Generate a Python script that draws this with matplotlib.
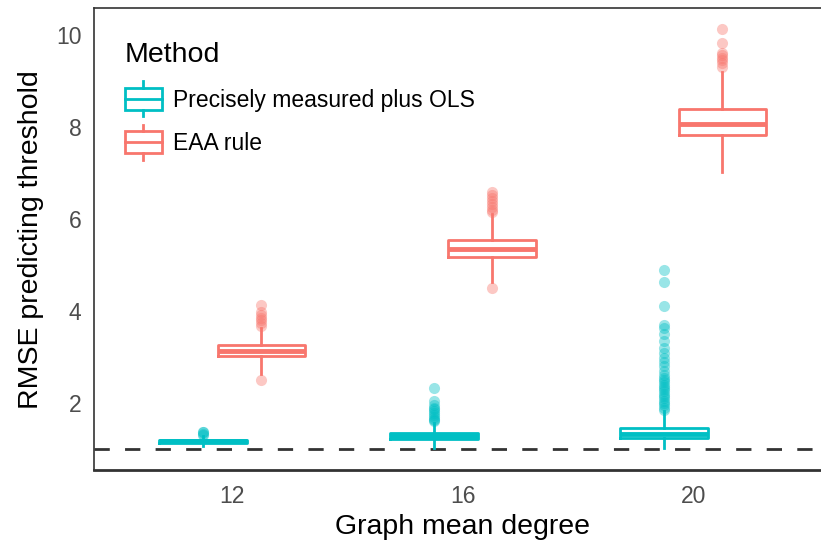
import numpy as np
import matplotlib.pyplot as plt
from matplotlib.legend_handler import HandlerBase
from matplotlib.patches import Rectangle
from matplotlib.lines import Line2D

plt.rcParams['font.family'] = ['Liberation Sans', 'DejaVu Sans']

degrees = ['12', '16', '20']
methods = ['Precisely measured plus OLS', 'EAA rule']
colors = ['#00BFC4', '#F8766D']

# box stats
ols_whislo = [1.06, 1.03, 1.02]
ols_q1 = [1.14, 1.22, 1.23]
ols_med = [1.165, 1.28, 1.33]
ols_q3 = [1.19, 1.34, 1.46]
ols_whishi = [1.28, 1.56, 1.82]
ols_out = [
    [1.30, 1.33, 1.36, 1.38],
    [1.60, 1.63, 1.66, 1.70, 1.74, 1.78, 1.82, 1.86, 1.90, 1.95, 2.04, 2.32],
    [1.85, 1.90, 1.95, 2.00, 2.05, 2.10, 2.15, 2.20, 2.25, 2.30, 2.35, 2.40,
     2.45, 2.50, 2.55, 2.60, 2.70, 2.80, 2.90, 2.97, 3.08, 3.20, 3.34, 3.50,
     3.62, 3.70, 4.11, 4.63, 4.89],
]

eaa_whislo = [2.62, 4.63, 7.01]
eaa_q1 = [3.02, 5.18, 7.83]
eaa_med = [3.13, 5.35, 8.07]
eaa_q3 = [3.27, 5.54, 8.38]
eaa_whishi = [3.62, 6.10, 9.19]
eaa_out = [
    [2.49, 3.68, 3.74, 3.80, 3.85, 3.92, 3.98, 4.13],
    [4.50, 6.15, 6.20, 6.26, 6.32, 6.38, 6.45, 6.52, 6.58],
    [9.30, 9.39, 9.45, 9.50, 9.55, 9.60, 9.82, 10.12],
]

threshold = 1.0


def make_stats(lo, q1, med, q3, hi, out):
    return [dict(whislo=a, q1=b, med=c, q3=d, whishi=e, fliers=f)
            for a, b, c, d, e, f in zip(lo, q1, med, q3, hi, out)]


groups = [
    make_stats(ols_whislo, ols_q1, ols_med, ols_q3, ols_whishi, ols_out),
    make_stats(eaa_whislo, eaa_q1, eaa_med, eaa_q3, eaa_whishi, eaa_out),
]

fig = plt.figure(figsize=(8.21, 5.45), dpi=100)
ax = fig.add_axes([0.1145, 0.1376, 0.8984, 0.847])

x = np.arange(1, len(degrees) + 1)
offsets = [-0.126, 0.126]
for stats, col, off in zip(groups, colors, offsets):
    ax.bxp(stats, positions=x + off, widths=0.38, showcaps=False,
           boxprops=dict(color=col, linewidth=2),
           whiskerprops=dict(color=col, linewidth=2),
           medianprops=dict(color=col, linewidth=3.5, solid_capstyle='butt'),
           flierprops=dict(marker='o', markerfacecolor=col, markeredgecolor='none',
                           markersize=8, alpha=0.4))

ax.axhline(threshold, color='#333333', linewidth=2, linestyle=(0, (5.5, 5.5)), zorder=0)

ax.set_xlim(0.4, 3.6)
ax.set_ylim(0.545, 10.57)
ax.set_xticks(x)
ax.set_xticklabels(degrees)
ax.set_yticks([2, 4, 6, 8, 10])
ax.tick_params(length=0, labelsize=16.5, labelcolor='#4D4D4D')
ax.tick_params(axis='x', pad=11)
ax.tick_params(axis='y', pad=9)
ax.set_xlabel('Graph mean degree', fontsize=20.5, labelpad=4)
ax.set_ylabel('RMSE predicting threshold', fontsize=20.5, labelpad=9)
for s in ['left', 'top', 'right']:
    ax.spines[s].set_linewidth(1.2)
    ax.spines[s].set_color('#333333')
ax.spines['bottom'].set_linewidth(2)
ax.spines['bottom'].set_color('#333333')


class BoxHandler(HandlerBase):
    def create_artists(self, legend, orig_handle, xdescent, ydescent,
                       width, height, fontsize, trans):
        col = orig_handle.get_color()
        cx = width / 2 - xdescent
        h = height
        rect = Rectangle((-xdescent, -ydescent - 0.1 * h), width, 1.2 * h,
                         facecolor='white', edgecolor=col, linewidth=2, transform=trans)
        med = Line2D([-xdescent, width - xdescent], [-ydescent + 0.5 * h] * 2,
                     color=col, linewidth=2, transform=trans)
        w1 = Line2D([cx, cx], [-ydescent + 1.1 * h, -ydescent + 1.45 * h],
                    color=col, linewidth=2, transform=trans)
        w2 = Line2D([cx, cx], [-ydescent - 0.1 * h, -ydescent - 0.45 * h],
                    color=col, linewidth=2, transform=trans)
        return [rect, med, w1, w2]


handles = [Line2D([], [], color=c) for c in colors]
leg = fig.legend(handles, methods, title='Method', loc='upper left',
                 bbox_to_anchor=(125 / 821, 1 - 42 / 545), frameon=False, fontsize=16.5,
                 title_fontsize=20.5, alignment='left', handlelength=1.6,
                 handleheight=0.85, labelspacing=0.9, handletextpad=0.5,
                 borderpad=0, borderaxespad=0,
                 handler_map={Line2D: BoxHandler()})

fig.savefig('out.png', dpi=100)
